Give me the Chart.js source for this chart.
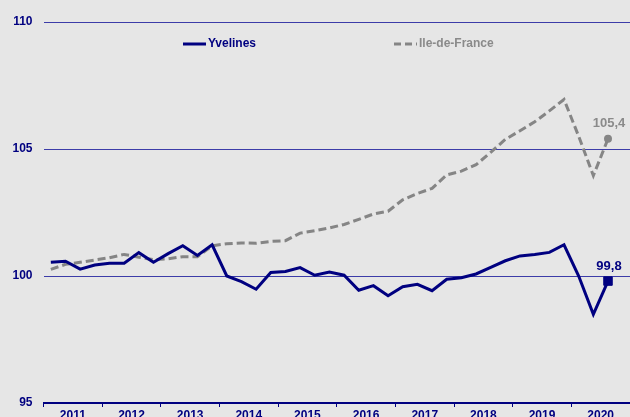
<!DOCTYPE html>
<html><head><meta charset="utf-8">
<script src="https://cdn.jsdelivr.net/npm/chart.js@4/dist/chart.umd.min.js"></script>
<style>html,body{margin:0;padding:0;background:#e6e6e6;overflow:hidden}#wrap{width:630px;height:417px}</style>
</head><body><div id="wrap"><canvas id="c" width="630" height="417"></canvas></div>
<script>
const years = ['2011','2012','2013','2014','2015','2016','2017','2018','2019','2020'];
const quarters = ['2011T1','2011T2','2011T3','2011T4','2012T1','2012T2','2012T3','2012T4',
  '2013T1','2013T2','2013T3','2013T4','2014T1','2014T2','2014T3','2014T4',
  '2015T1','2015T2','2015T3','2015T4','2016T1','2016T2','2016T3','2016T4',
  '2017T1','2017T2','2017T3','2017T4','2018T1','2018T2','2018T3','2018T4',
  '2019T1','2019T2','2019T3','2019T4','2020T1','2020T2','2020T3'];
const yvelines = [100.54,100.58,100.27,100.43,100.50,100.50,100.92,100.54,
  100.88,101.19,100.81,101.23,100.00,99.78,99.48,100.14,
  100.18,100.33,100.03,100.16,100.03,99.44,99.62,99.22,
  99.58,99.67,99.42,99.87,99.93,100.08,100.34,100.60,
  100.79,100.85,100.93,101.23,100.00,98.49,99.8];
const ileDeFrance = [100.26,100.46,100.54,100.63,100.72,100.85,100.74,100.64,
  100.68,100.76,100.76,101.19,101.27,101.30,101.29,101.36,
  101.39,101.69,101.78,101.89,102.03,102.23,102.44,102.55,
  103.00,103.25,103.45,103.98,104.13,104.38,104.87,105.38,
  105.72,106.07,106.50,106.95,105.50,103.95,105.4];
const yTicks = [95,100,105,110];

const FONT = "'Liberation Sans', Arial, sans-serif";
const NAVY = '#000080', GRAY = '#858585', GRAYTXT = '#8a8a8a', GRID = '#3c3ca8', BG = '#e6e6e6';
const nQ = years.length * 4;
const toPts = arr => arr.map((v, i) => ({x: i + 0.5, y: v, q: quarters[i]}));

const bgPlugin = {id:'bg', beforeDraw(ch){const c=ch.ctx;c.save();c.fillStyle=BG;c.fillRect(0,0,ch.width,ch.height);c.restore();}};
const legendPlugin = {id:'leg', afterDraw(ch){
  const c = ch.ctx; c.save();
  const y = 44;
  c.lineWidth = 3; c.strokeStyle = NAVY; c.setLineDash([]);
  c.beginPath(); c.moveTo(183, y); c.lineTo(206, y); c.stroke();
  c.font = 'bold 12px ' + FONT; c.textBaseline = 'middle'; c.textAlign = 'left';
  c.fillStyle = NAVY; c.fillText('Yvelines', 208, y);
  c.strokeStyle = GRAY; c.setLineDash([7,4]);
  c.beginPath(); c.moveTo(394, y); c.lineTo(417, y); c.stroke();
  c.setLineDash([]);
  c.fillStyle = GRAYTXT; c.fillText('Ile-de-France', 419, y);
  c.restore();
}};
const labelPlugin = {id:'lbl', afterDatasetsDraw(ch){
  const c = ch.ctx; c.save();
  c.font = 'bold 13px ' + FONT; c.textAlign = 'center'; c.textBaseline = 'middle';
  [[0, NAVY, yvelines], [1, GRAYTXT, ileDeFrance]].forEach(([i, col, arr]) => {
    const meta = ch.getDatasetMeta(i);
    const el = meta.data[meta.data.length - 1];
    c.fillStyle = col;
    c.fillText(arr[arr.length - 1].toFixed(1).replace('.', ','), el.x + 1, el.y - 15);
  });
  c.restore();
}};

new Chart(document.getElementById('c'), {
  type: 'line',
  data: {datasets: [
    {label:'Yvelines', data: toPts(yvelines), borderColor: NAVY, backgroundColor: NAVY, borderWidth: 3, tension: 0,
     pointStyle: 'rect', pointRadius: c => c.dataIndex === yvelines.length - 1 ? 6 : 0, pointBorderWidth: 1, pointBorderColor: NAVY},
    {label:'Ile-de-France', data: toPts(ileDeFrance), borderColor: GRAY, backgroundColor: GRAY, borderWidth: 3, tension: 0,
     borderDash: [8,4], pointStyle: 'circle', pointRadius: c => c.dataIndex === ileDeFrance.length - 1 ? 4 : 0, pointBorderWidth: 0}
  ]},
  options: {
    responsive: false, animation: false, events: [],
    layout: {autoPadding: false, padding: {top: 22, right: 0, left: 0, bottom: 0}},
    plugins: {legend: {display: false}, tooltip: {enabled: false}},
    scales: {
      x: {type: 'linear', min: 0, max: nQ,
        afterBuildTicks: s => { const t = []; for (let k = 0; k <= nQ; k += 2) t.push({value: k}); s.ticks = t; },
        ticks: {autoSkip: false, maxRotation: 0, padding: 1, color: NAVY, font: {family: FONT, size: 12, weight: 'bold'},
          callback: v => (v % 4 === 2 ? years[(v - 2) / 4] : '')},
        grid: {drawOnChartArea: false, drawTicks: true, tickLength: 4, tickWidth: 1,
          tickColor: c => (c.tick && c.tick.value % 4 === 0 ? NAVY : 'rgba(0,0,0,0)')},
        border: {display: true, color: NAVY, width: 2},
        afterFit: s => { s.height = 14; s.paddingLeft = 0; s.paddingRight = 0; }
      },
      y: {min: 95, max: 110,
        afterBuildTicks: s => { s.ticks = yTicks.map(v => ({value: v})); },
        ticks: {color: NAVY, padding: 11, font: {family: FONT, size: 12, weight: 'bold'}},
        grid: {color: GRID, lineWidth: 1, drawTicks: false},
        border: {display: false},
        afterFit: s => { s.width = 43.5; s.paddingTop = 0; s.paddingBottom = 0; }
      }
    }
  },
  plugins: [bgPlugin, legendPlugin, labelPlugin]
});
</script></body></html>
